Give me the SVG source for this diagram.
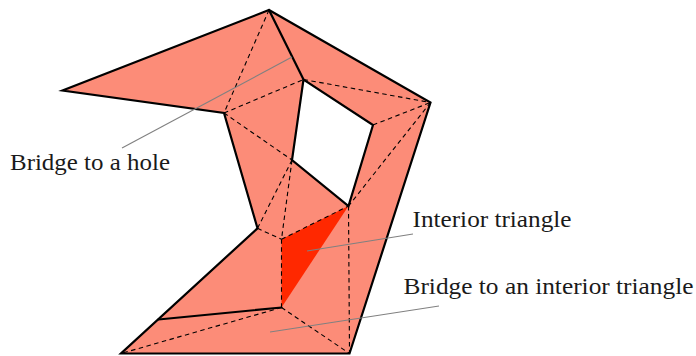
<svg xmlns="http://www.w3.org/2000/svg" width="696" height="356" viewBox="0 0 696 356">
<style>
.solid{fill:none;stroke:#000;stroke-width:2.2;stroke-linejoin:miter;stroke-linecap:round}
.dash{fill:none;stroke:#000;stroke-width:1.1;stroke-dasharray:4.5,3.5}
.lead{fill:none;stroke:#808080;stroke-width:1.1}
.lbl{font-family:"Liberation Serif",serif;font-size:22.5px;fill:#1a1a1a}
</style>
<rect width="696" height="356" fill="#fff"/>
<g id="polygon">
<path d="M269,10 L430.5,102.5 L349.5,353.5 L121,353.5 L257.5,228.3 L224,113 L62.5,90.5 Z M303.5,79.5 L292,160 L348.5,206 L373,125 Z" fill="#FC8C78" fill-rule="evenodd"/>
</g>
<g id="interior-triangle">
<polygon points="281.5,239.3 348.5,206 281.5,307.5" fill="#FF2800"/>
</g>
<g id="connectors">
<path class="dash" d="M269,10 L224,113"/>
<path class="dash" d="M224,113 L303.5,79.5"/>
<path class="dash" d="M303.5,79.5 L430.5,102.5"/>
<path class="dash" d="M373,125 L430.5,102.5"/>
<path class="dash" d="M224,113 L292,160"/>
<path class="dash" d="M430.5,102.5 L348.5,206"/>
<path class="dash" d="M292,160 L257.5,228.3"/>
<path class="dash" d="M292,160 L281.5,239.3"/>
<path class="dash" d="M257.5,228.3 L281.5,239.3"/>
<path class="dash" d="M281.5,239.3 L348.5,206"/>
<path class="dash" d="M281.5,239.3 L281.5,307.5"/>
<path class="dash" d="M348.5,206 L349.5,353.5"/>
<path class="dash" d="M281.5,307.5 L349.5,353.5"/>
<path class="dash" d="M281.5,307.5 L121,353.5"/>
<path class="solid" d="M269,10 L430.5,102.5 L349.5,353.5 L121,353.5 L257.5,228.3 L224,113 L62.5,90.5 Z"/>
<path class="solid" d="M303.5,79.5 L292,160 L348.5,206 L373,125 Z"/>
<path class="solid" d="M269,10 L303.5,79.5"/>
<path class="solid" d="M158.5,319.5 L281.5,307.5"/>
<path class="lead" d="M292,57 L122,148"/>
<path class="lead" d="M307,251 L413,234"/>
<path class="lead" d="M270,332 L439,306"/>
</g>
<g id="labels">
<text class="lbl" x="10" y="169.5" textLength="160" lengthAdjust="spacingAndGlyphs">Bridge to a hole</text>
<text class="lbl" x="412.5" y="227" textLength="159" lengthAdjust="spacingAndGlyphs">Interior triangle</text>
<text class="lbl" x="403.5" y="293.5" textLength="290" lengthAdjust="spacingAndGlyphs">Bridge to an interior triangle</text>
</g>
</svg>
